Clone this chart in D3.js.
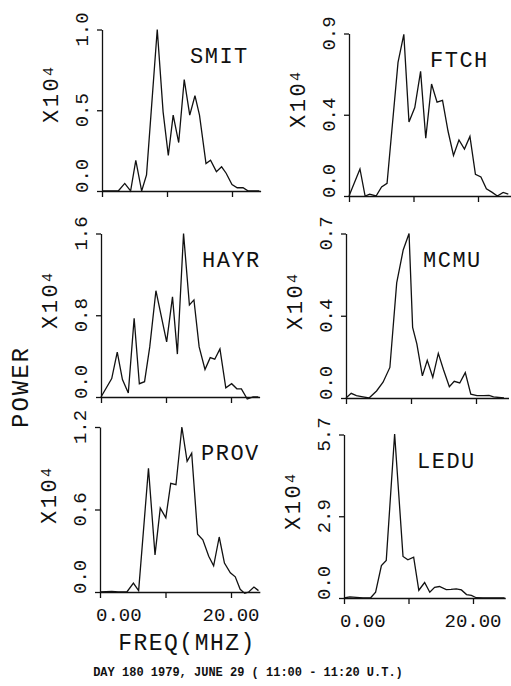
<!DOCTYPE html>
<html>
<head>
<meta charset="utf-8">
<script src="https://cdn.jsdelivr.net/npm/d3@7"></script>
<style>
  body { margin: 0; background: #fff; }
  svg text { font-family: "Liberation Mono", "DejaVu Sans Mono", monospace; fill: #111; }
</style>
</head>
<body>
<div id="container"></div>
<script>
/* DATA (freq MHz, power x10^4) ------------------------------------ */
const smit = [[0,0],[2.5,0],[3.5,0.047],[4.4,0],[5.2,0.19],[6.1,0],[6.85,0.1],[8.5,1.0],
  [9.4,0.49],[10.2,0.22],[10.95,0.47],[11.8,0.3],[12.65,0.69],[13.5,0.47],[14.3,0.59],
  [15.0,0.47],[16.0,0.17],[16.7,0.19],[17.6,0.12],[18.4,0.15],[19.1,0.11],[20.0,0.04],
  [20.8,0.02],[21.7,0.02],[22.5,0],[24.2,0]];
const ftch = [[0,0],[1.7,0.15],[2.5,0],[3.2,0.01],[4.2,0],[5.05,0.05],[5.9,0.07],[7.6,0.74],
  [8.5,0.895],[9.3,0.41],[10.2,0.49],[11.1,0.69],[11.9,0.32],[12.8,0.62],[13.65,0.52],
  [14.5,0.53],[15.35,0.36],[16.2,0.225],[17.05,0.31],[17.9,0.26],[18.75,0.33],[19.6,0.12],
  [20.45,0.105],[21.3,0.04],[22.2,0.02],[23.0,0],[23.9,0.02],[24.7,0.01]];
const hayr = [[0,0],[1.65,0.18],[2.5,0.44],[3.3,0.17],[4.2,0.04],[5.1,0.77],[5.9,0.13],
  [6.7,0.15],[7.5,0.49],[8.45,1.04],[10.1,0.54],[11.0,0.98],[11.75,0.42],[12.7,1.6],
  [13.6,0.9],[14.3,0.95],[15.1,0.49],[16.0,0.27],[16.8,0.385],[17.5,0.37],[18.3,0.47],
  [19.2,0.09],[20.1,0.13],[20.9,0.08],[21.6,0.08],[22.5,-0.02],[23.4,0],[24.2,0]];
const mcmu = [[0,0],[0.8,0.02],[1.6,0.01],[2.6,0.005],[3.55,0],[4.7,0.03],[5.7,0.067],
  [6.75,0.13],[7.8,0.49],[8.8,0.63],[9.7,0.7],[10.25,0.3],[10.9,0.23],[11.75,0.094],
  [12.5,0.16],[13.35,0.088],[14.2,0.19],[15.0,0.12],[15.9,0.048],[16.65,0.071],
  [17.5,0.064],[18.35,0.108],[19.2,0.016],[20.15,0.01],[21.2,0.01],[22.0,0.011],
  [22.7,0.005],[24.3,0]];
const prov = [[0,0],[1.8,0.005],[2.8,0],[4.1,0],[5.1,0.065],[5.9,0.01],[7.4,0.9],[8.4,0.27],
  [9.2,0.61],[10.05,0.54],[10.8,0.79],[11.6,0.78],[12.5,1.2],[13.3,0.95],[14.0,1.01],
  [14.9,0.42],[15.7,0.38],[16.6,0.26],[17.35,0.19],[18.2,0.4],[19.0,0.21],[19.9,0.14],
  [20.65,0.11],[21.4,0.02],[22.1,-0.01],[22.7,0],[23.5,0.036],[24.2,0.01]];
const ledu = [[0,0],[0.9,0.04],[1.9,0.02],[2.95,0],[4.1,0],[4.9,0.2],[5.8,1.13],[6.55,1.31],
  [7.85,5.72],[9.15,1.45],[9.9,1.33],[10.8,1.42],[11.6,0.27],[12.5,0.54],[13.3,0.2],
  [14.05,0.37],[14.8,0.4],[15.85,0.29],[16.6,0.3],[17.4,0.32],[18.2,0.28],[19.0,0.12],
  [19.75,0.09],[20.5,0.01],[21.55,0],[23.6,0],[24.9,0]];

const stations = ["SMIT", "FTCH", "HAYR", "MCMU", "PROV", "LEDU"];
const series = [smit, ftch, hayr, mcmu, prov, ledu];
const yTops = [1.0, 0.9, 1.6, 0.7, 1.2, 5.7];
const yTickLabels = [
  ["0.0", "0.5", "1.0"],
  ["0.0", "0.4", "0.9"],
  ["0.0", "0.8", "1.6"],
  ["0.0", "0.4", "0.7"],
  ["0.0", "0.6", "1.2"],
  ["0.0", "2.9", "5.7"],
];
const xTickValues = [0, 10, 20];
const xTickLabels = ["0.00", "", "20.00"];

/* LAYOUT ---------------------------------------------------------- */
// axis x, x of the 20 MHz tick, x max (MHz), top y, zero y, label x
const panels = [
  { ax: 102, x20: 232, xMax: 24.4, top: 29.5, zero: 191, lx: 190 },
  { ax: 349, x20: 478, xMax: 25.1, top: 33.5, zero: 196, lx: 430 },
  { ax: 101, x20: 231, xMax: 24.4, top: 233.5, zero: 397, lx: 202 },
  { ax: 346, x20: 476, xMax: 25.0, top: 233.5, zero: 398, lx: 423 },
  { ax: 100, x20: 231, xMax: 24.4, top: 427, zero: 592, lx: 201 },
  { ax: 344, x20: 473, xMax: 25.0, top: 434.5, zero: 598, lx: 417 },
];
const width = 511;
const height = 686;

const svg = d3
  .select("#container")
  .append("svg")
  .attr("width", width)
  .attr("height", height);

panels.forEach((p, i) => {
  const xScale = d3.scaleLinear().domain([0, 20]).range([p.ax, p.x20]);
  const yScale = d3.scaleLinear().domain([0, yTops[i]]).range([p.zero, p.top]);
  const g = svg.append("g");

  // AXES ---------------------------------------------------------
  const xAxis = g
    .append("g")
    .attr("transform", `translate(0,${p.zero})`)
    .call(
      d3.axisBottom(xScale.copy().domain([0, p.xMax]).range([p.ax, xScale(p.xMax)]))
        .tickValues(xTickValues)
        .tickSize(6)
        .tickSizeOuter(0)
        .tickFormat("")
    );
  const yAxis = g
    .append("g")
    .attr("transform", `translate(${p.ax},0)`)
    .call(
      d3.axisLeft(yScale)
        .tickValues([0, yTops[i] / 2, yTops[i]])
        .tickSize(5)
        .tickSizeOuter(0)
        .tickFormat("")
    );
  [xAxis, yAxis].forEach((a) => {
    a.selectAll("path, line").attr("stroke", "#111").attr("stroke-width", 1.3);
  });

  // Y TICK LABELS (rotated; the bottom one sits above the baseline) ----
  g.selectAll(".ylab")
    .data([0, yTops[i] / 2, yTops[i]])
    .join("text")
    .attr("class", "ylab")
    .attr("transform", (d, j) =>
      j === 0
        ? `translate(${p.ax - 14},${p.zero + 2}) rotate(-90)`
        : `translate(${p.ax - 14},${yScale(d)}) rotate(-90)`
    )
    .attr("text-anchor", (d, j) => (j === 0 ? "start" : "middle"))
    .style("font-size", "19px")
    .text((d, j) => yTickLabels[i][j]);

  // X10^4 -----------------------------------------------------------
  const mult = g
    .append("text")
    .attr("transform", `translate(${p.ax - 44},${p.zero - 68}) rotate(-90)`)
    .attr("text-anchor", "start")
    .style("font-size", "22px")
    .style("letter-spacing", "2.5px");
  mult.append("tspan").text("X10");
  mult.append("tspan").attr("dy", -5).style("font-size", "15px").text("4");

  // X TICK LABELS (bottom row only) ---------------------------------
  if (i >= 4) {
    g.selectAll(".xlab")
      .data(xTickValues)
      .join("text")
      .attr("class", "xlab")
      .attr("x", (d) => (d === 0 ? xScale(d) - 4 : xScale(d)))
      .attr("y", p.zero + 29)
      .attr("text-anchor", (d) => (d === 0 ? "start" : "middle"))
      .style("font-size", "19px")
      .text((d, j) => xTickLabels[j]);
  }

  // STATION NAME -----------------------------------------------------
  g.append("text")
    .attr("x", p.lx)
    .attr("y", p.top + 33)
    .style("font-size", "22px")
    .style("letter-spacing", "1.5px")
    .text(stations[i]);

  // SPECTRUM LINE ----------------------------------------------------
  const line = d3
    .line()
    .x((d) => xScale(d[0]))
    .y((d) => yScale(d[1]));
  g.append("path")
    .datum(series[i])
    .attr("d", line)
    .attr("fill", "none")
    .attr("stroke", "#111")
    .attr("stroke-width", 1.3)
    .attr("stroke-linejoin", "miter");
});

// AXIS TITLES -------------------------------------------------------
svg
  .append("text")
  .attr("transform", "translate(28,387) rotate(-90)")
  .attr("text-anchor", "middle")
  .style("font-size", "24px")
  .style("letter-spacing", "2px")
  .text("POWER");

svg
  .append("text")
  .attr("x", 187)
  .attr("y", 650)
  .attr("text-anchor", "middle")
  .style("font-size", "23px")
  .style("letter-spacing", "1.5px")
  .text("FREQ(MHZ)");

svg
  .append("text")
  .attr("x", 248)
  .attr("y", 676)
  .attr("text-anchor", "middle")
  .style("font-size", "12px")
  .style("font-weight", "bold")
  .text("DAY 180 1979, JUNE 29 ( 11:00 - 11:20 U.T.)");
</script>
</body>
</html>
